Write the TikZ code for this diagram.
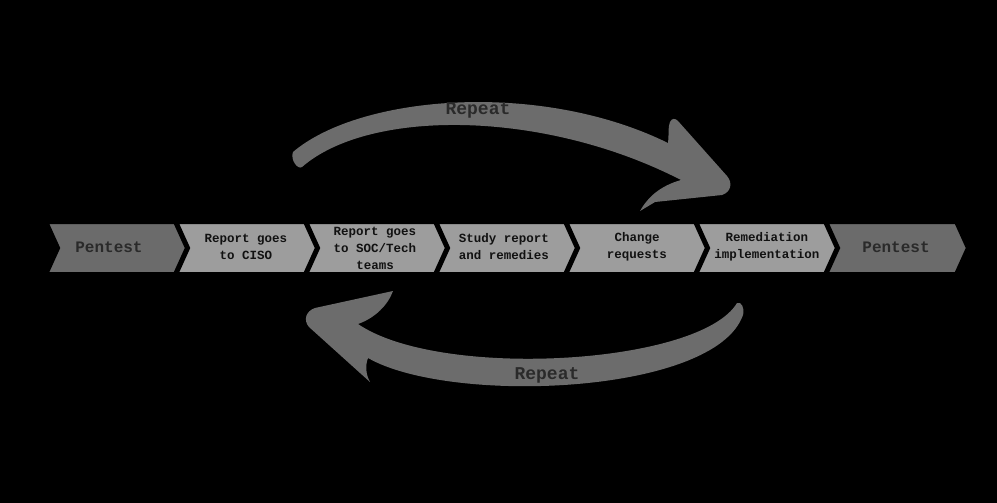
\documentclass[tikz,border=0pt]{standalone}
\usepackage{fontspec}
\newfontfamily\cour{Liberation Mono}
\definecolor{pdark}{HTML}{6B6B6B}
\definecolor{plight}{HTML}{9D9D9D}
\definecolor{parrow}{HTML}{6C6C6C}
\definecolor{ptext}{HTML}{111111}
\definecolor{pdtext}{HTML}{2A2A2A}
\begin{document}
\begin{tikzpicture}[x=1pt,y=-1pt,
  chev/.style={draw=black,line width=5pt,line join=miter},
  lbl/.style={font=\cour\bfseries\fontsize{12.5}{17}\selectfont,text=ptext,align=center,inner sep=0pt},
  plbl/.style={font=\cour\bfseries\fontsize{16}{18}\selectfont,text=pdtext,inner sep=0pt},
  rlbl/.style={font=\cour\bfseries\fontsize{18}{20}\selectfont,text=pdtext,inner sep=0pt},
  arr/.style={fill=parrow}]
\fill[black] (0,0) rectangle (997,503);
\useasboundingbox (0,0) rectangle (997,503);
% chevrons
\foreach \i/\c in {0/pdark,1/plight,2/plight,3/plight,4/plight,5/plight,6/pdark}{
  \pgfmathsetmacro\s{45.5+130*\i}
  \filldraw[chev,fill=\c] (\s,221.5) -- ++(131,0) -- ++(12,26.5) -- ++(-12,26.5) -- ++(-131,0) -- ++(12,-26.5) -- cycle;
}
\node[plbl] (c1) at (109,247) {Pentest};
\node[lbl] (c2) at (246,247) {Report goes\\to CISO};
\node[lbl] (c3) at (375,248) {Report goes\\to SOC/Tech\\teams};
\node[lbl] (c4) at (504,247) {Study report\\and remedies};
\node[lbl] (c5) at (637,247) {Change\\requests};
\node[lbl] (c6) at (767,247) {Remediation\\implementation};
\node[plbl] (c7) at (896,247) {Pentest};
% upper curved arrow
\fill[arr] (293,152) .. controls (360,95) and (540,80) .. (668,143)
  .. controls (669,135) and (668,126) .. (670,122)
  .. controls (672,118) and (675,118) .. (678,121)
  -- (727,176) .. controls (733,183) and (731,192) .. (722,195)
  -- (655,202) -- (640,211)
  .. controls (648,197) and (660,186) .. (681,180)
  .. controls (545,110) and (370,108) .. (302,167)
  .. controls (298,170) and (290,160) .. (293,152) -- cycle;
% lower curved arrow
\fill[arr] (737,303) .. controls (700,365) and (440,380) .. (358,324)
  .. controls (375,318) and (388,305) .. (393,291)
  -- (315,308) .. controls (306,311) and (303,320) .. (309,327)
  -- (370,382)
  .. controls (366,375) and (365,366) .. (368,358)
  .. controls (450,405) and (715,395) .. (743,315)
  .. controls (745,308) and (741,301) .. (737,303) -- cycle;
\node[rlbl] (r1) at (478,110) {Repeat};
\node[rlbl] (r2) at (547,375) {Repeat};
\end{tikzpicture}
\end{document}
